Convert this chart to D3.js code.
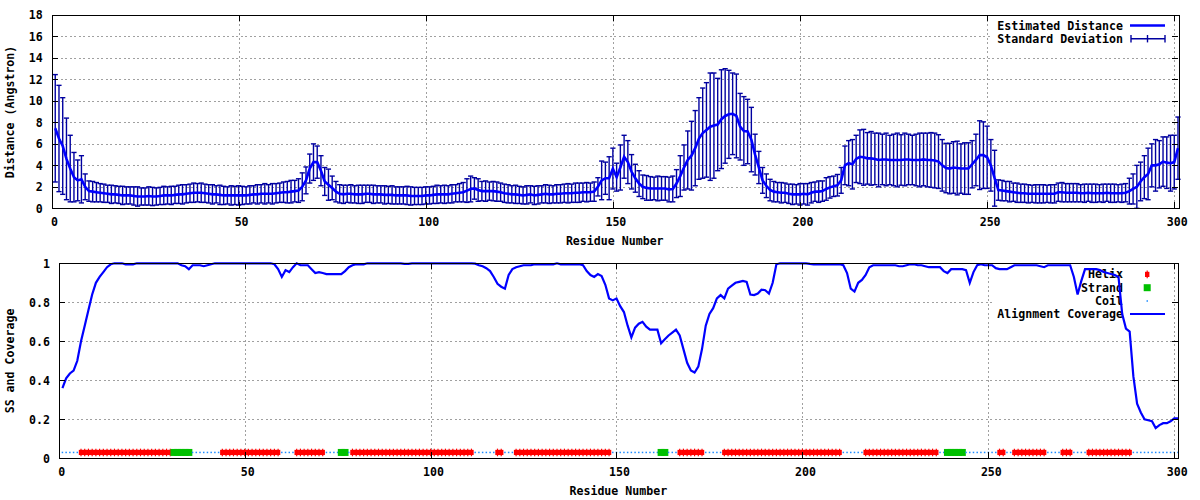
<!DOCTYPE html>
<html><head><meta charset="utf-8">
<script src="https://cdn.jsdelivr.net/npm/d3@7"></script>
<style>
body{margin:0;background:#fff;}
svg{display:block;background:#fff;}
text{font-family:"DejaVu Sans Mono",monospace;font-weight:bold;font-size:11.6px;fill:#000;}
</style></head><body><svg id="c" width="1200" height="500"></svg>
<script>
// ---------- DATA ----------
const distance = [
7.45,6.5,5.8,4.6,3.7,2.9,2.6,2.7,2.0,1.6,
1.55,1.5,1.45,1.4,1.35,1.3,1.3,1.25,1.2,1.2,
1.2,1.15,1.1,1.1,1.1,1.15,1.1,1.1,1.15,1.2,
1.2,1.2,1.25,1.3,1.3,1.35,1.4,1.45,1.45,1.45,
1.4,1.35,1.3,1.3,1.25,1.2,1.2,1.2,1.2,1.2,
1.2,1.2,1.25,1.3,1.3,1.35,1.35,1.35,1.35,1.4,
1.45,1.5,1.5,1.55,1.6,1.65,2.0,2.6,3.7,4.3,
4.3,3.5,2.5,2.2,1.9,1.55,1.35,1.3,1.35,1.35,
1.3,1.3,1.3,1.35,1.35,1.3,1.3,1.3,1.25,1.25,
1.25,1.2,1.2,1.2,1.2,1.15,1.15,1.15,1.15,1.2,
1.2,1.25,1.3,1.3,1.3,1.3,1.35,1.4,1.45,1.5,
1.65,1.8,1.85,1.7,1.6,1.6,1.6,1.6,1.55,1.5,
1.4,1.35,1.3,1.3,1.25,1.2,1.25,1.3,1.2,1.25,
1.3,1.35,1.3,1.3,1.35,1.35,1.4,1.4,1.4,1.45,
1.45,1.5,1.5,1.5,1.55,2.0,2.6,2.8,2.8,3.7,
2.9,3.8,4.8,4.3,3.4,2.8,2.3,2.0,1.9,1.85,
1.85,1.85,1.85,1.85,1.75,1.8,2.3,3.0,3.8,4.5,
4.9,5.6,6.5,7.0,7.3,7.6,7.7,7.8,8.3,8.6,
8.75,8.8,8.6,7.6,7.2,7.15,6.4,5.0,3.8,2.6,
2.1,1.7,1.55,1.5,1.45,1.45,1.35,1.3,1.3,1.3,
1.35,1.3,1.45,1.55,1.55,1.6,1.8,1.95,2.05,2.15,
2.6,4.0,4.2,4.1,4.6,4.8,4.75,4.65,4.65,4.6,
4.5,4.55,4.55,4.5,4.5,4.5,4.5,4.55,4.55,4.5,
4.5,4.5,4.55,4.5,4.5,4.45,4.35,4.0,3.75,3.7,
3.8,3.75,3.7,3.7,3.7,4.1,4.5,4.95,4.95,4.75,
4.0,2.8,1.7,1.65,1.6,1.55,1.5,1.45,1.4,1.4,
1.35,1.35,1.35,1.35,1.35,1.35,1.35,1.35,1.5,1.5,
1.45,1.45,1.45,1.45,1.4,1.4,1.45,1.4,1.4,1.4,
1.4,1.45,1.4,1.4,1.4,1.4,1.45,1.6,1.8,2.0,
2.5,2.9,3.2,4.0,4.0,4.1,4.35,4.25,4.2,4.3,5.6];

const stdDev = [
5.0,4.95,4.5,3.8,3.1,2.3,1.9,2.2,1.2,0.95,
0.95,0.9,0.85,0.85,0.8,0.85,0.8,0.8,0.85,0.8,
0.8,0.85,0.9,0.8,0.8,0.85,0.85,0.8,0.8,0.85,
0.8,0.85,0.8,0.85,0.9,0.85,0.85,0.9,0.85,0.9,
0.85,0.85,0.9,0.8,0.9,0.85,0.8,0.9,0.85,0.9,
0.85,0.8,0.85,0.8,0.9,0.85,0.95,0.85,0.95,0.9,
0.9,0.95,1.0,1.05,1.0,1.1,1.3,1.25,1.35,1.7,
1.5,1.4,1.3,1.45,1.1,0.95,0.85,0.85,0.8,0.85,
0.8,0.85,0.85,0.8,0.8,0.85,0.8,0.8,0.85,0.8,
0.85,0.8,0.8,0.8,0.85,0.85,0.8,0.8,0.8,0.8,
0.8,0.8,0.85,0.8,0.85,0.8,0.85,0.8,0.85,0.9,
1.1,1.2,1.0,1.05,0.9,0.95,0.85,0.9,0.9,0.85,
0.85,0.85,0.8,0.85,0.8,0.8,0.85,0.8,0.85,0.85,
0.8,0.85,0.85,0.8,0.85,0.85,0.85,0.9,0.85,0.9,
0.9,0.85,0.9,0.85,0.9,0.85,1.8,1.5,2.0,1.9,
1.3,2.1,2.0,2.0,1.6,1.3,1.2,1.1,1.15,1.1,
1.05,1.15,1.1,1.1,1.15,1.2,1.3,1.9,2.1,2.7,
3.2,3.5,3.8,4.2,4.4,5.0,4.9,4.3,4.6,4.4,
4.1,3.8,3.9,3.1,3.2,3.0,3.0,1.9,1.5,1.2,
1.1,1.0,0.95,0.9,0.95,0.9,0.9,0.95,0.9,1.0,
0.95,1.0,0.95,0.9,1.0,0.95,1.05,1.0,0.95,1.0,
1.2,1.8,2.1,2.3,2.2,2.5,2.6,2.4,2.5,2.4,
2.5,2.35,2.45,2.3,2.4,2.5,2.35,2.45,2.35,2.3,
2.4,2.5,2.45,2.5,2.55,2.55,2.5,2.4,2.3,2.35,
2.4,2.5,2.3,2.4,2.4,2.2,2.4,3.2,3.1,2.9,
2.4,2.6,0.95,0.95,0.9,0.95,0.85,0.9,0.85,0.85,
0.85,0.8,0.85,0.85,0.85,0.8,0.85,0.85,0.85,0.9,
0.85,0.85,0.85,0.85,0.8,0.85,0.8,0.85,0.85,0.8,
0.85,0.8,0.85,0.85,0.8,0.85,0.85,1.2,1.4,2.0,
1.8,2.0,2.4,2.0,2.4,2.2,2.3,2.4,2.6,2.5,2.9];

const coverage = [
0.36,0.41,0.435,0.45,0.5,0.6,0.68,0.76,0.84,0.9,
0.93,0.955,0.98,0.995,1.0,1.0,1.0,0.995,0.995,0.995,
1.0,1.0,1.0,1.0,1.0,1.0,1.0,1.0,1.0,1.0,
1.0,1.0,0.99,0.985,0.97,0.99,0.99,0.99,0.985,0.99,
0.995,1.0,1.0,1.0,1.0,1.0,1.0,1.0,1.0,1.0,
1.0,1.0,1.0,1.0,1.0,1.0,1.0,0.995,0.97,0.93,
0.965,0.955,0.98,1.0,0.99,0.99,0.99,0.97,0.95,0.955,
0.95,0.945,0.945,0.945,0.945,0.945,0.96,0.98,0.99,0.995,
0.995,0.995,1.0,1.0,1.0,1.0,1.0,1.0,1.0,1.0,
1.0,1.0,0.997,0.997,1.0,1.0,1.0,1.0,1.0,1.0,
1.0,1.0,1.0,1.0,1.0,1.0,1.0,1.0,1.0,1.0,
1.0,0.998,0.99,0.985,0.975,0.96,0.93,0.895,0.88,0.87,
0.94,0.97,0.98,0.985,0.99,0.99,0.99,0.995,0.995,0.995,
0.995,0.995,0.995,1.0,0.995,0.995,0.995,0.995,0.995,0.995,
0.99,0.96,0.94,0.93,0.945,0.935,0.89,0.82,0.81,0.82,
0.78,0.75,0.68,0.62,0.67,0.69,0.70,0.675,0.66,0.66,
0.66,0.59,0.61,0.63,0.645,0.66,0.63,0.56,0.49,0.45,
0.44,0.47,0.56,0.68,0.74,0.77,0.82,0.837,0.82,0.87,
0.885,0.9,0.905,0.91,0.905,0.84,0.837,0.845,0.865,0.862,
0.845,0.9,0.995,1.0,1.0,1.0,1.0,1.0,1.0,1.0,
1.0,0.997,0.995,0.995,0.995,0.995,0.995,0.995,0.995,0.995,
0.99,0.95,0.87,0.855,0.9,0.915,0.94,0.98,0.99,0.99,
0.99,0.99,0.99,0.99,0.99,0.985,0.985,0.99,0.995,0.995,
0.99,0.99,0.985,0.98,0.98,0.98,0.98,0.96,0.95,0.97,
0.97,0.97,0.97,0.965,0.9,0.955,0.99,0.995,0.99,0.99,
0.99,0.975,0.97,0.97,0.97,0.98,0.99,0.99,0.99,0.99,
0.99,0.99,0.99,0.985,0.98,0.99,0.99,0.99,0.99,0.99,
0.99,0.99,0.93,0.84,0.91,0.97,0.97,0.97,0.97,0.965,
0.955,0.95,0.945,0.94,0.93,0.74,0.665,0.65,0.42,0.28,
0.235,0.2,0.195,0.19,0.155,0.17,0.18,0.18,0.19,0.205,0.205];

// secondary structure segments: [type, first residue, last residue]
const ssSegments = [
["C",1,5],["H",6,30],["E",31,35],["C",36,43],["H",44,59],["C",60,63],["H",64,71],
["C",72,75],["E",76,77],["C",78,78],["H",79,111],["C",112,117],["H",118,119],
["C",120,122],["H",123,148],["C",149,161],["E",162,163],["C",164,166],["H",167,173],
["C",174,178],["H",179,210],["C",211,216],["H",217,236],["C",237,238],["E",239,243],
["C",244,252],["H",253,254],["C",255,256],["H",257,265],["C",266,269],["H",270,272],
["C",273,276],["H",277,288],["C",289,301]];

const xTicks = [0,50,100,150,200,250,300];
const distTicks = [0,2,4,6,8,10,12,14,16,18];
const covTicks = [0,0.2,0.4,0.6,0.8,1];
const topLegend = ["Estimated Distance","Standard Deviation"];
const botLegend = ["Helix","Strand","Coil","Alignment Coverage"];

// ---------- DRAW ----------
const svg = d3.select("#c");
const P1 = {l:51.5, r:1178, t:15, b:208.3};
const P2 = {l:58.7, r:1178, t:263.3, b:458.3};
const x1 = d3.scaleLinear().domain([0,301]).range([P1.l,P1.r]);
const y1 = d3.scaleLinear().domain([0,18]).range([P1.b,P1.t]);
const x2 = d3.scaleLinear().domain([0,301]).range([P2.l,P2.r]);
const y2 = d3.scaleLinear().domain([0,1]).range([P2.b,P2.t]);
const C_LINE="#0000ff", C_ERR="#0000a0", C_H="#ff0000", C_E="#00c000", C_C="#1e8cff", C_GRID="#a0a0a0";
const px = v => Math.round(v)+0.5;

function drawGrid(x,y,P,yt,keyLeft,keyBottom){
  const g = svg.append("g").attr("shape-rendering","crispEdges")
    .attr("stroke",C_GRID).attr("stroke-width",1).attr("stroke-dasharray","2,2.5");
  g.selectAll("line.v").data(xTicks.filter(v=>x(v)>P.l+1 && x(v)<P.r-1)).join("line")
    .attr("x1",d=>px(x(d))).attr("x2",d=>px(x(d))).attr("y1",P.t).attr("y2",P.b);
  g.selectAll("line.h").data(yt.filter(v=>y(v)>P.t+1 && y(v)<P.b-1)).join("line")
    .attr("y1",d=>px(y(d))).attr("y2",d=>px(y(d))).attr("x1",P.l)
    .attr("x2",d=> y(d)<keyBottom ? keyLeft : P.r);
}

function drawFrame(x,y,P,yt,fmt,xTitle,yTitle,yTitleY,labPad){
  const g = svg.append("g");
  const ax = g.append("g").attr("transform",`translate(0,${P.b})`)
    .call(d3.axisBottom(x).tickValues(xTicks).tickSize(-6).tickSizeOuter(0));
  ax.select(".domain").remove();
  ax.selectAll("text").attr("y",13.9).attr("dy","0.35em").attr("dx",2.5);
  const axT = g.append("g").attr("transform",`translate(0,${P.t})`)
    .call(d3.axisTop(x).tickValues(xTicks).tickSize(-6).tickFormat(""));
  axT.select(".domain").remove();
  const ay = g.append("g").attr("transform",`translate(${P.l},0)`)
    .call(d3.axisLeft(y).tickValues(yt).tickSize(-6).tickPadding(labPad).tickFormat(fmt));
  ay.select(".domain").remove();
  const ayR = g.append("g").attr("transform",`translate(${P.r},0)`)
    .call(d3.axisRight(y).tickValues(yt).tickSize(-6).tickFormat(""));
  ayR.select(".domain").remove();
  g.selectAll(".tick line").attr("shape-rendering","crispEdges");
  g.append("rect").attr("x",px(P.l)).attr("y",px(P.t)).attr("width",Math.round(P.r-P.l))
    .attr("height",Math.round(P.b-P.t)).attr("fill","none").attr("stroke","#000")
    .attr("shape-rendering","crispEdges");
  g.append("text").attr("x",(P.l+P.r)/2).attr("y",xTitle[1]).attr("dy","0.35em")
    .attr("text-anchor","middle").text(xTitle[0]);
  g.append("text").attr("transform",`translate(10,${yTitleY}) rotate(-90)`)
    .attr("dy","0.35em").attr("text-anchor","middle").text(yTitle);
}

// ----- top panel -----
drawGrid(x1,y1,P1,distTicks,990,46);
const eb = svg.append("g").attr("stroke",C_ERR).attr("stroke-width",1.4).attr("fill","none");
distance.forEach((d,i)=>{
  const r=i+1, xx=x1(r), lo=y1(d-stdDev[i]), hi=y1(d+stdDev[i]);
  eb.append("line").attr("x1",xx).attr("x2",xx).attr("y1",lo).attr("y2",hi);
  eb.append("line").attr("x1",xx-2.6).attr("x2",xx+2.6).attr("y1",lo).attr("y2",lo);
  eb.append("line").attr("x1",xx-2.6).attr("x2",xx+2.6).attr("y1",hi).attr("y2",hi);
});
svg.append("path").datum(distance)
  .attr("d",d3.line().x((d,i)=>x1(i+1)).y(d=>y1(d)))
  .attr("fill","none").attr("stroke",C_LINE).attr("stroke-width",2.6);
drawFrame(x1,y1,P1,distTicks,d3.format("~g"),["Residue Number",240.7],"Distance (Angstron)",112,8.7);
// top legend
const lg1 = svg.append("g");
lg1.append("text").attr("x",1123).attr("y",26).attr("dy","0.35em").attr("text-anchor","end").text(topLegend[0]);
lg1.append("line").attr("x1",1130).attr("x2",1165).attr("y1",25.5).attr("y2",25.5).attr("stroke",C_LINE).attr("stroke-width",2.6);
lg1.append("text").attr("x",1123).attr("y",39).attr("dy","0.35em").attr("text-anchor","end").text(topLegend[1]);
const ebk = lg1.append("g").attr("stroke",C_ERR).attr("stroke-width",1.4);
ebk.append("line").attr("x1",1131).attr("x2",1165).attr("y1",38.7).attr("y2",38.7);
[1131,1147.5,1165].forEach(xx=>ebk.append("line").attr("x1",xx).attr("x2",xx).attr("y1",35).attr("y2",42.4));

// ----- bottom panel -----
drawGrid(x2,y2,P2,covTicks,995,322);
const lg2 = svg.append("g");
const ky = [274.4,287.7,301,314];
botLegend.forEach((t,i)=>lg2.append("text").attr("x",1123).attr("y",ky[i]).attr("dy","0.35em").attr("text-anchor","end").text(t));
lg2.append("rect").attr("x",1145).attr("y",ky[0]-2.6).attr("width",4.4).attr("height",5.2).attr("fill",C_H);
lg2.append("line").attr("x1",1147.2).attr("x2",1147.2).attr("y1",ky[0]-3.8).attr("y2",ky[0]+3.8).attr("stroke",C_H).attr("stroke-width",1.2);
lg2.append("rect").attr("x",1143.7).attr("y",ky[1]-3.5).attr("width",7).attr("height",7).attr("fill",C_E);
lg2.append("rect").attr("x",1146.5).attr("y",ky[2]-0.75).attr("width",1.5).attr("height",1.5).attr("fill",C_C);

const ssY = y2(0.03);
const ssG = svg.append("g");
ssSegments.forEach(([t,a,b])=>{
  for(let r=a;r<=b;r++){
    const xx=x2(r);
    if(t==="H"){
      ssG.append("rect").attr("x",xx-2.2).attr("y",ssY-2.6).attr("width",4.4).attr("height",5.2).attr("fill",C_H);
      ssG.append("line").attr("x1",xx).attr("x2",xx).attr("y1",ssY-3.8).attr("y2",ssY+3.8).attr("stroke",C_H).attr("stroke-width",1.2);
    } else if(t==="E"){
      ssG.append("rect").attr("x",xx-3.5).attr("y",ssY-3.5).attr("width",7).attr("height",7).attr("fill",C_E);
    } else {
      ssG.append("rect").attr("x",xx-0.75).attr("y",ssY-0.75).attr("width",1.5).attr("height",1.5).attr("fill",C_C);
    }
  }
});
svg.append("path").datum(coverage)
  .attr("d",d3.line().x((d,i)=>x2(i+1)).y(d=>y2(d)))
  .attr("fill","none").attr("stroke",C_LINE).attr("stroke-width",2.2);
lg2.append("line").attr("x1",1130).attr("x2",1165).attr("y1",ky[3]).attr("y2",ky[3]).attr("stroke",C_LINE).attr("stroke-width",2.2);
drawFrame(x2,y2,P2,covTicks,d3.format("~g"),["Residue Number",490.7],"SS and Coverage",361,8.7);
</script></body></html>
